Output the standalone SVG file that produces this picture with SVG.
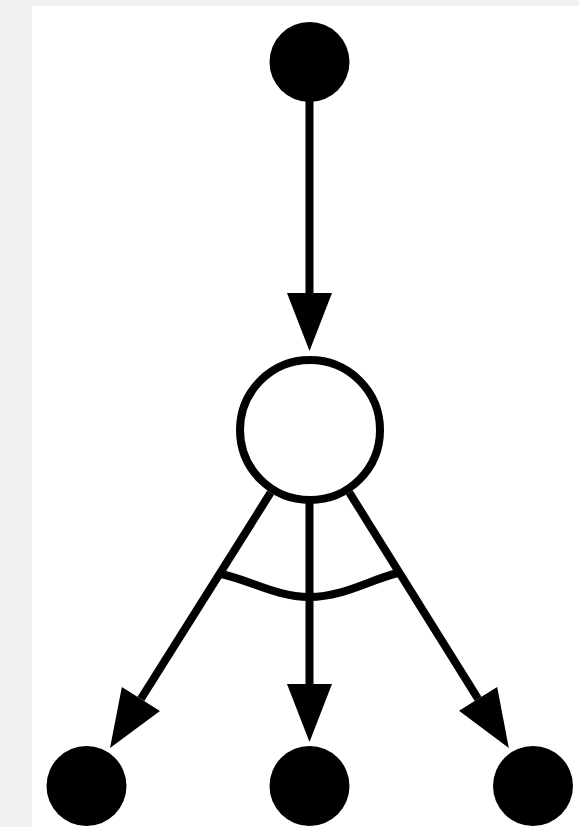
<svg xmlns="http://www.w3.org/2000/svg" width="579" height="827" viewBox="0 0 579 827">
<style>
.dot{fill:#000}
.edge{stroke:#000;stroke-width:8;fill:none}
</style>
<defs>
<marker id="ah" markerUnits="userSpaceOnUse" markerWidth="60" markerHeight="46" refX="0" refY="22.5" orient="auto" overflow="visible">
<path d="M0,0 L58,22.5 L0,45 Z" fill="#000"/>
</marker>
</defs>
<rect x="0" y="0" width="579" height="827" fill="#f1f1f1"/>
<rect x="32" y="6" width="547" height="821" fill="#fff"/>
<g id="edges">
<line class="edge" x1="309.5" y1="100" x2="309.5" y2="293" marker-end="url(#ah)"/>
<line class="edge" x1="270.6" y1="492.7" x2="140.9" y2="698.9" marker-end="url(#ah)"/>
<line class="edge" x1="309.5" y1="500" x2="309.5" y2="684" marker-end="url(#ah)"/>
<line class="edge" x1="349.4" y1="492.7" x2="478.1" y2="698.9" marker-end="url(#ah)"/>
<path class="edge" d="M221,574 C250,580 276,597 309.5,597 C343,597 369,580 398,573"/>
</g>
<g id="top"><circle class="dot" cx="309.5" cy="62" r="40"/></g>
<g id="mid"><circle cx="310" cy="430" r="70" fill="#fff" stroke="#000" stroke-width="8"/></g>
<g id="bl"><circle class="dot" cx="86.5" cy="786" r="40"/></g>
<g id="bm"><circle class="dot" cx="309.5" cy="786" r="40"/></g>
<g id="br"><circle class="dot" cx="533" cy="786" r="40"/></g>
</svg>
